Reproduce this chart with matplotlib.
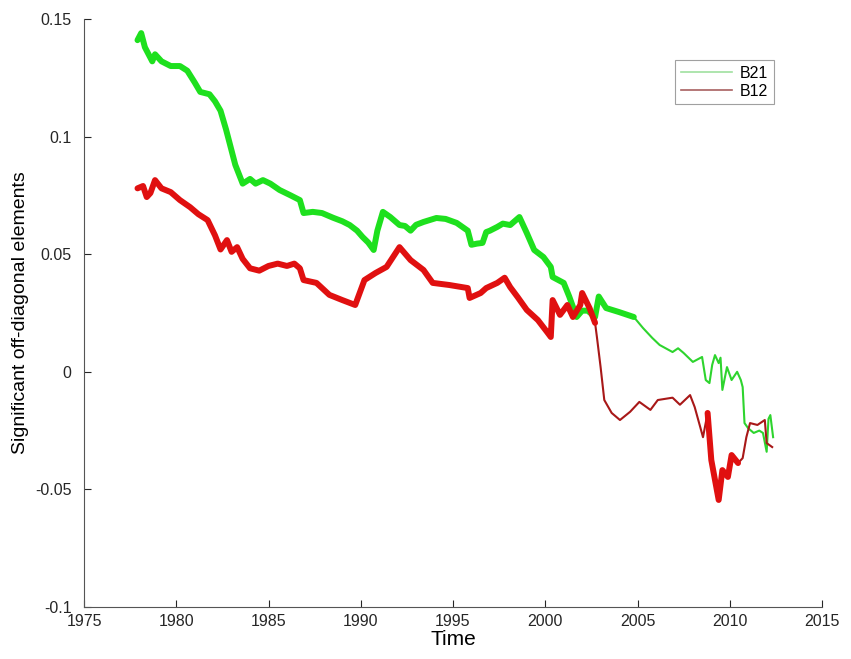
import numpy as np
import matplotlib
matplotlib.use("Agg")
import matplotlib.pyplot as plt

# B21 (green)
years_b21 = [1977.9, 1978.1, 1978.3, 1978.7, 1978.85, 1979.2, 1979.7, 1980.2, 1980.6, 1981.0,
             1981.3, 1981.8, 1982.1, 1982.4, 1982.7, 1982.9, 1983.2, 1983.6, 1984.0, 1984.3,
             1984.7, 1985.1, 1985.6, 1986.2, 1986.7, 1986.9, 1987.4, 1987.9, 1988.5, 1989.0,
             1989.4, 1989.8, 1990.1, 1990.4, 1990.7, 1990.9, 1991.2, 1991.6, 1992.1, 1992.4,
             1992.7, 1993.0, 1993.4, 1994.1, 1994.6, 1995.2, 1995.8, 1996.0, 1996.3, 1996.6,
             1996.8, 1997.0, 1997.4, 1997.7, 1998.1, 1998.6, 1999.0, 1999.4, 1999.9, 2000.3,
             2000.4, 2001.0, 2001.3, 2001.7, 2002.0, 2002.3, 2002.7, 2002.9, 2003.3, 2004.0,
             2004.8, 2005.3, 2005.8, 2006.2, 2006.9, 2007.2, 2007.5, 2008.0, 2008.5, 2008.7,
             2008.9, 2009.05, 2009.2, 2009.4, 2009.5, 2009.6, 2009.85, 2010.1, 2010.4, 2010.6,
             2010.7, 2010.8, 2011.0, 2011.3, 2011.6, 2011.8, 2012.0, 2012.1, 2012.2, 2012.35]
b21 = [0.141, 0.144, 0.138, 0.132, 0.135, 0.132, 0.130, 0.130, 0.128, 0.123,
       0.119, 0.118, 0.115, 0.111, 0.103, 0.097, 0.088, 0.080, 0.082, 0.080,
       0.0815, 0.080, 0.0773, 0.075, 0.073, 0.0675, 0.068, 0.0675, 0.0655, 0.064,
       0.0624, 0.060, 0.0573, 0.055, 0.0518, 0.060, 0.068, 0.0658, 0.0624, 0.062,
       0.060, 0.0625, 0.0637, 0.0654, 0.065, 0.0633, 0.060, 0.054, 0.0545, 0.0548,
       0.0594, 0.060, 0.0616, 0.063, 0.0624, 0.0658, 0.059, 0.0518, 0.0488, 0.0446,
       0.0403, 0.0378, 0.032, 0.0233, 0.026, 0.026, 0.0233, 0.032, 0.0271, 0.0254,
       0.0233, 0.0186, 0.0144, 0.0114, 0.0084, 0.010, 0.008, 0.0042, 0.0063, -0.0035,
       -0.0048, 0.003, 0.0071, 0.0037, 0.006, -0.0077, 0.002, -0.0035, 0.000, -0.0035,
       -0.0065, -0.0218, -0.024, -0.026, -0.025, -0.026, -0.034, -0.020, -0.0184, -0.0278]

# B12 (red)
years_b12 = [1977.9, 1978.2, 1978.4, 1978.6, 1978.85, 1979.2, 1979.7, 1980.2, 1980.75, 1981.2,
             1981.7, 1982.1, 1982.4, 1982.75, 1983.0, 1983.3, 1983.6, 1984.0, 1984.5, 1985.0,
             1985.5, 1986.0, 1986.4, 1986.7, 1986.9, 1987.6, 1988.3, 1989.0, 1989.7, 1990.2,
             1990.8, 1991.4, 1992.1, 1992.7, 1993.4, 1993.9, 1994.8, 1995.8, 1995.9, 1996.5,
             1996.8, 1997.4, 1997.8, 1998.1, 1998.5, 1999.0, 1999.6, 2000.1, 2000.3, 2000.4,
             2000.8, 2001.2, 2001.5, 2001.9, 2002.0, 2002.4, 2002.7, 2002.8, 2003.0, 2003.2,
             2003.6, 2004.05, 2004.6, 2005.1, 2005.7, 2006.1, 2006.9, 2007.3, 2007.85, 2008.1,
             2008.4, 2008.55, 2008.8, 2009.0, 2009.2, 2009.4, 2009.6, 2009.9, 2010.1, 2010.45,
             2010.7, 2010.9, 2011.1, 2011.5, 2011.9, 2012.0, 2012.3]
b12 = [0.078, 0.079, 0.0743, 0.076, 0.0815, 0.078, 0.0764, 0.073, 0.070, 0.067,
       0.0645, 0.058, 0.052, 0.056, 0.051, 0.053, 0.048, 0.044, 0.043, 0.045,
       0.046, 0.045, 0.046, 0.044, 0.039, 0.0378, 0.0327, 0.0305, 0.0284, 0.039,
       0.042, 0.0446, 0.053, 0.0475, 0.0433, 0.0378, 0.0369, 0.0356, 0.0314, 0.0335,
       0.0356, 0.0378, 0.040, 0.036, 0.0318, 0.0263, 0.022, 0.0169, 0.0148, 0.0305,
       0.0242, 0.0284, 0.0233, 0.0284, 0.0335, 0.0271, 0.0208, 0.0148, 0.002, -0.012,
       -0.0175, -0.0205, -0.017, -0.0128, -0.0162, -0.012, -0.011, -0.014, -0.0099, -0.015,
       -0.0235, -0.0278, -0.0175, -0.0375, -0.046, -0.0545, -0.0418, -0.0447, -0.0354, -0.0388,
       -0.0367, -0.0278, -0.0218, -0.0226, -0.0205, -0.0303, -0.032]

# periods where the daily series is noisy and shows up as a thick band
thick_b21 = [(1977.0, 2004.8)]
thick_b12 = [(1977.0, 2002.7), (2008.8, 2010.5)]

GREEN = '#1ee01e'
RED = '#e01010'


def draw_series(ax, x, y, color, thin_color, spans, label):
    x = np.array(x)
    y = np.array(y)
    ax.plot(x, y, color=thin_color, linewidth=1.5, label=label, zorder=2)
    for a, b in spans:
        m = (x >= a) & (x <= b)
        ax.plot(x[m], y[m], color=color, linewidth=4.3, solid_joinstyle='round',
                solid_capstyle='round', zorder=3)


plt.rcParams['font.family'] = ['Liberation Sans', 'DejaVu Sans']
fig = plt.figure(figsize=(8.51, 6.59), dpi=100)
ax = fig.add_axes([84 / 851, 1 - 607 / 659, 738 / 851, 588 / 659])

draw_series(ax, years_b21, b21, GREEN, '#2ed42e', thick_b21, 'B21')
draw_series(ax, years_b12, b12, RED, '#a81818', thick_b12, 'B12')

ax.set_xlim(1975, 2015)
ax.set_ylim(-0.1, 0.15)
ax.set_xticks(np.arange(1975, 2016, 5))
ax.set_yticks([-0.1, -0.05, 0, 0.05, 0.1, 0.15])
ax.set_yticklabels(['-0.1', '-0.05', '0', '0.05', '0.1', '0.15'])
ax.tick_params(direction='in', length=5, width=0.8, labelsize=11.5, colors='#262626')
ax.tick_params(axis='y', pad=9)
ax.tick_params(axis='x', pad=5)
ax.spines['top'].set_visible(False)
ax.spines['right'].set_visible(False)
for s in ('left', 'bottom'):
    ax.spines[s].set_color('#555555')
    ax.spines[s].set_linewidth(0.8)

ax.set_xlabel('Time', fontsize=15, labelpad=1)
ax.set_ylabel('Significant off-diagonal elements', fontsize=14, labelpad=4)

leg_handles = [plt.Line2D([], [], color='#9fe09f', lw=1.2),
               plt.Line2D([], [], color='#a86060', lw=1.2)]
leg = ax.legend(leg_handles, ['B21', 'B12'], loc='upper left', bbox_to_anchor=(0.79, 0.944),
                fontsize=11.5, frameon=True, fancybox=False, handlelength=3.2,
                borderpad=0.35, labelspacing=0.2, handletextpad=0.5)
leg.get_frame().set_edgecolor('#888888')
leg.get_frame().set_linewidth(0.8)

fig.savefig('out.png', dpi=100)
